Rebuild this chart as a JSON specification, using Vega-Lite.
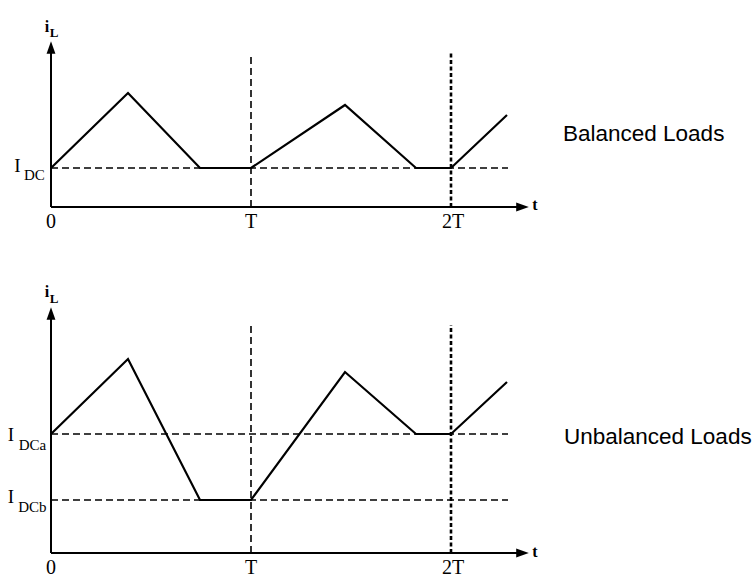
{
  "$schema": "https://vega.github.io/schema/vega-lite/v6.json",
  "background": "white",
  "padding": 0,
  "spacing": 0,
  "config": {
    "view": {"stroke": null},
    "text": {"font": "Liberation Serif", "color": "black"}
  },
  "datasets": {
    "balanced_wave": [
      {"t": 0, "i": 3.9},
      {"t": 0.385, "i": 11.4},
      {"t": 0.745, "i": 3.9},
      {"t": 1.0, "i": 3.9},
      {"t": 1.47, "i": 10.2},
      {"t": 1.825, "i": 3.9},
      {"t": 2.0, "i": 3.9},
      {"t": 2.28, "i": 9.2}
    ],
    "unbalanced_wave": [
      {"t": 0, "i": 11.9},
      {"t": 0.385, "i": 19.4},
      {"t": 0.745, "i": 5.3},
      {"t": 1.0, "i": 5.3},
      {"t": 1.47, "i": 18.1},
      {"t": 1.825, "i": 11.9},
      {"t": 2.0, "i": 11.9},
      {"t": 2.28, "i": 17.1}
    ],
    "balanced_levels": [
      {"level": "IDC", "t": 0, "t_end": 2.285, "i": 3.9}
    ],
    "unbalanced_levels": [
      {"level": "IDCa", "t": 0, "t_end": 2.285, "i": 11.9},
      {"level": "IDCb", "t": 0, "t_end": 2.285, "i": 5.3}
    ],
    "balanced_periods": [
      {"period": "T", "t": 1, "i": 0, "i_end": 15.2},
      {"period": "2T", "t": 2, "i": 0, "i_end": 15.5}
    ],
    "unbalanced_periods": [
      {"period": "T", "t": 1, "i": 0, "i_end": 22.8},
      {"period": "2T", "t": 2, "i": 0, "i_end": 22.8}
    ],
    "balanced_axes": [
      {"axis": "t", "t": 0, "t_end": 2.33, "i": 0, "i_end": 0},
      {"axis": "i", "t": 0, "t_end": 0, "i": 0, "i_end": 15.6}
    ],
    "unbalanced_axes": [
      {"axis": "t", "t": 0, "t_end": 2.33, "i": 0, "i_end": 0},
      {"axis": "i", "t": 0, "t_end": 0, "i": 0, "i_end": 23.6}
    ],
    "balanced_arrows": [
      {"axis": "t", "t": 2.3575, "i": 0},
      {"axis": "i", "t": 0, "i": 15.95}
    ],
    "unbalanced_arrows": [
      {"axis": "t", "t": 2.3575, "i": 0},
      {"axis": "i", "t": 0, "i": 23.95}
    ],
    "balanced_labels": [
      {"role": "tick", "text": "0", "t": 0, "i": -1.5},
      {"role": "tick", "text": "T", "t": 1, "i": -1.5},
      {"role": "tick", "text": "2T", "t": 2.01, "i": -1.5},
      {"role": "symbol", "text": "i", "t": -0.02, "i": 18.0},
      {"role": "symbol_sub", "text": "L", "t": 0.015, "i": 17.4},
      {"role": "symbol", "text": "t", "t": 2.42, "i": 0.2},
      {"role": "level", "text": "I", "t": -0.168, "i": 4.1},
      {"role": "level_sub", "text": "DC", "t": -0.083, "i": 3.2},
      {"role": "title", "text": "Balanced Loads", "t": 2.56, "i": 7.3}
    ],
    "unbalanced_labels": [
      {"role": "tick", "text": "0", "t": 0, "i": -1.5},
      {"role": "tick", "text": "T", "t": 1, "i": -1.5},
      {"role": "tick", "text": "2T", "t": 2.01, "i": -1.5},
      {"role": "symbol", "text": "i", "t": -0.02, "i": 26.1},
      {"role": "symbol_sub", "text": "L", "t": 0.015, "i": 25.4},
      {"role": "symbol", "text": "t", "t": 2.42, "i": 0.1},
      {"role": "level", "text": "I", "t": -0.2, "i": 11.8},
      {"role": "level_sub", "text": "DCa", "t": -0.093, "i": 10.8},
      {"role": "level", "text": "I", "t": -0.2, "i": 5.6},
      {"role": "level_sub", "text": "DCb", "t": -0.093, "i": 4.6},
      {"role": "title", "text": "Unbalanced Loads", "t": 2.565, "i": 11.6}
    ]
  },
  "vconcat": [
    {
      "width": 755,
      "height": 265,
      "encoding": {
        "x": {"field": "t", "type": "quantitative", "scale": {"domain": [-0.255, 3.52], "nice": false, "zero": false}, "axis": null},
        "y": {"field": "i", "type": "quantitative", "scale": {"domain": [-5.8, 20.7], "nice": false, "zero": false}, "axis": null}
      },
      "layer": [
        {
          "data": {"name": "balanced_levels"},
          "mark": {"type": "rule", "color": "black", "strokeWidth": 1.5, "strokeDash": [7, 4]},
          "encoding": {"x2": {"field": "t_end"}}
        },
        {
          "data": {"name": "balanced_periods"},
          "transform": [{"filter": "datum.period === 'T'"}],
          "mark": {"type": "rule", "color": "black", "strokeWidth": 1.6, "strokeDash": [7, 4]},
          "encoding": {"y2": {"field": "i_end"}}
        },
        {
          "data": {"name": "balanced_periods"},
          "transform": [{"filter": "datum.period === '2T'"}],
          "mark": {"type": "rule", "color": "black", "strokeWidth": 2.6, "strokeDash": [4, 2.5]},
          "encoding": {"y2": {"field": "i_end"}}
        },
        {
          "data": {"name": "balanced_axes"},
          "mark": {"type": "rule", "color": "black", "strokeWidth": 2},
          "encoding": {"x2": {"field": "t_end"}, "y2": {"field": "i_end"}}
        },
        {
          "data": {"name": "balanced_arrows"},
          "mark": {"type": "point", "filled": true, "color": "black", "opacity": 1, "size": 160},
          "encoding": {
            "shape": {"field": "axis", "type": "nominal", "scale": {"domain": ["t", "i"], "range": ["M1,0L-1,-0.7L-1,0.7Z", "M0,-1L-0.7,1L0.7,1Z"]}, "legend": null}
          }
        },
        {
          "data": {"name": "balanced_wave"},
          "mark": {"type": "line", "color": "black", "strokeWidth": 2.2},
          "encoding": {}
        },
        {
          "data": {"name": "balanced_labels"},
          "transform": [{"filter": "datum.role === 'tick'"}],
          "mark": {"type": "text", "fontSize": 20, "baseline": "middle"},
          "encoding": {"text": {"field": "text"}}
        },
        {
          "data": {"name": "balanced_labels"},
          "transform": [{"filter": "datum.role === 'symbol'"}],
          "mark": {"type": "text", "fontSize": 16, "fontWeight": "bold", "baseline": "middle"},
          "encoding": {"text": {"field": "text"}}
        },
        {
          "data": {"name": "balanced_labels"},
          "transform": [{"filter": "datum.role === 'symbol_sub'"}],
          "mark": {"type": "text", "fontSize": 13, "fontWeight": "bold", "baseline": "middle"},
          "encoding": {"text": {"field": "text"}}
        },
        {
          "data": {"name": "balanced_labels"},
          "transform": [{"filter": "datum.role === 'level'"}],
          "mark": {"type": "text", "fontSize": 19, "baseline": "middle"},
          "encoding": {"text": {"field": "text"}}
        },
        {
          "data": {"name": "balanced_labels"},
          "transform": [{"filter": "datum.role === 'level_sub'"}],
          "mark": {"type": "text", "fontSize": 15, "baseline": "middle"},
          "encoding": {"text": {"field": "text"}}
        },
        {
          "data": {"name": "balanced_labels"},
          "transform": [{"filter": "datum.role === 'title'"}],
          "mark": {"type": "text", "font": "Liberation Sans", "fontSize": 22.5, "align": "left", "baseline": "middle"},
          "encoding": {"text": {"field": "text"}}
        }
      ]
    },
    {
      "width": 755,
      "height": 315,
      "encoding": {
        "x": {"field": "t", "type": "quantitative", "scale": {"domain": [-0.255, 3.52], "nice": false, "zero": false}, "axis": null},
        "y": {"field": "i", "type": "quantitative", "scale": {"domain": [-2.7, 28.8], "nice": false, "zero": false}, "axis": null}
      },
      "layer": [
        {
          "data": {"name": "unbalanced_levels"},
          "mark": {"type": "rule", "color": "black", "strokeWidth": 1.5, "strokeDash": [7, 4]},
          "encoding": {"x2": {"field": "t_end"}}
        },
        {
          "data": {"name": "unbalanced_periods"},
          "transform": [{"filter": "datum.period === 'T'"}],
          "mark": {"type": "rule", "color": "black", "strokeWidth": 1.6, "strokeDash": [7, 4]},
          "encoding": {"y2": {"field": "i_end"}}
        },
        {
          "data": {"name": "unbalanced_periods"},
          "transform": [{"filter": "datum.period === '2T'"}],
          "mark": {"type": "rule", "color": "black", "strokeWidth": 2.6, "strokeDash": [4, 2.5]},
          "encoding": {"y2": {"field": "i_end"}}
        },
        {
          "data": {"name": "unbalanced_axes"},
          "mark": {"type": "rule", "color": "black", "strokeWidth": 2},
          "encoding": {"x2": {"field": "t_end"}, "y2": {"field": "i_end"}}
        },
        {
          "data": {"name": "unbalanced_arrows"},
          "mark": {"type": "point", "filled": true, "color": "black", "opacity": 1, "size": 160},
          "encoding": {
            "shape": {"field": "axis", "type": "nominal", "scale": {"domain": ["t", "i"], "range": ["M1,0L-1,-0.7L-1,0.7Z", "M0,-1L-0.7,1L0.7,1Z"]}, "legend": null}
          }
        },
        {
          "data": {"name": "unbalanced_wave"},
          "mark": {"type": "line", "color": "black", "strokeWidth": 2.2},
          "encoding": {}
        },
        {
          "data": {"name": "unbalanced_labels"},
          "transform": [{"filter": "datum.role === 'tick'"}],
          "mark": {"type": "text", "fontSize": 20, "baseline": "middle"},
          "encoding": {"text": {"field": "text"}}
        },
        {
          "data": {"name": "unbalanced_labels"},
          "transform": [{"filter": "datum.role === 'symbol'"}],
          "mark": {"type": "text", "fontSize": 16, "fontWeight": "bold", "baseline": "middle"},
          "encoding": {"text": {"field": "text"}}
        },
        {
          "data": {"name": "unbalanced_labels"},
          "transform": [{"filter": "datum.role === 'symbol_sub'"}],
          "mark": {"type": "text", "fontSize": 13, "fontWeight": "bold", "baseline": "middle"},
          "encoding": {"text": {"field": "text"}}
        },
        {
          "data": {"name": "unbalanced_labels"},
          "transform": [{"filter": "datum.role === 'level'"}],
          "mark": {"type": "text", "fontSize": 19, "baseline": "middle"},
          "encoding": {"text": {"field": "text"}}
        },
        {
          "data": {"name": "unbalanced_labels"},
          "transform": [{"filter": "datum.role === 'level_sub'"}],
          "mark": {"type": "text", "fontSize": 15, "baseline": "middle"},
          "encoding": {"text": {"field": "text"}}
        },
        {
          "data": {"name": "unbalanced_labels"},
          "transform": [{"filter": "datum.role === 'title'"}],
          "mark": {"type": "text", "font": "Liberation Sans", "fontSize": 22.5, "align": "left", "baseline": "middle"},
          "encoding": {"text": {"field": "text"}}
        }
      ]
    }
  ]
}
